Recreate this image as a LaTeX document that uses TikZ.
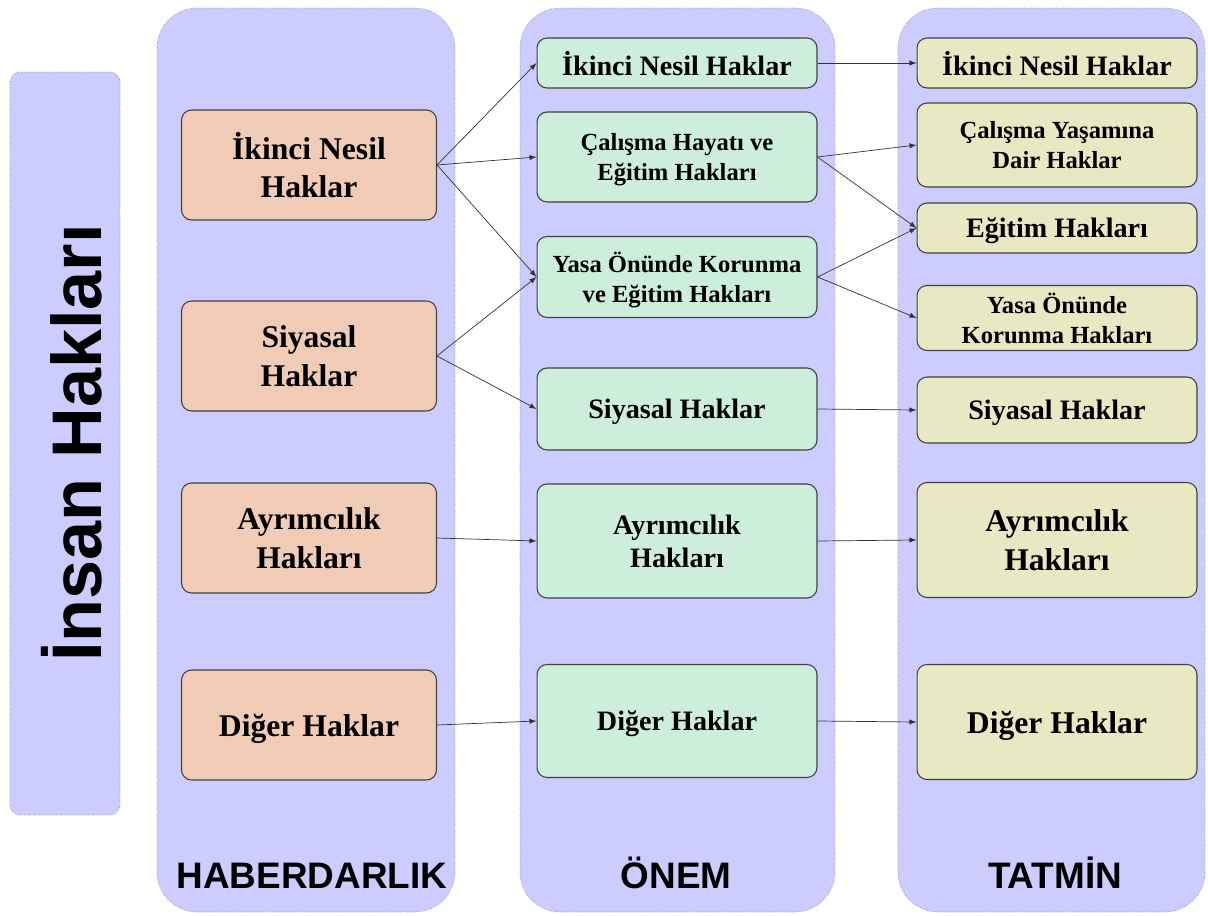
\documentclass[tikz,border=0pt]{standalone}
\usepackage{fontspec}
\setmainfont{Liberation Serif}
\newfontfamily\headfont{Liberation Sans}

\definecolor{lavender}{RGB}{204,204,255}
\definecolor{salmon}{RGB}{240,204,182}
\definecolor{mint}{RGB}{204,238,218}
\definecolor{straw}{RGB}{232,232,194}

\tikzset{
  panel/.style={draw=black!45,densely dotted,fill=lavender,rounded corners=0.8cm},
  rbox/.style={draw=black!75,semithick,rounded corners=0.2cm,align=center,inner sep=2pt,text depth=0pt,font=\bfseries},
  lbox/.style={rbox,fill=salmon,minimum width=5.1cm,minimum height=2.2cm,font=\fontsize{18}{22}\selectfont\bfseries},
  mbox/.style={rbox,fill=mint,minimum width=5.6cm,font=\fontsize{16}{19}\selectfont\bfseries},
  tbox/.style={rbox,fill=straw,minimum width=5.6cm,font=\fontsize{16}{19}\selectfont\bfseries},
  smalltext/.style={font=\fontsize{14}{17}\selectfont\bfseries},
  bigtext/.style={font=\fontsize{18}{22}\selectfont\bfseries},
  caption/.style={anchor=base,font=\headfont\fontsize{21}{24}\selectfont\bfseries},
  link/.style={draw=black!80,arrows=-latex}
}

\begin{document}
\begin{tikzpicture}[x=0.02cm,y=-0.02cm]
\useasboundingbox (0,0) rectangle (1208,916);

% columns:
\draw[panel,rounded corners=0.2cm] (10,72) rectangle (120,815);
\draw[panel] (157,8) rectangle (455,912);
\draw[panel] (520,8) rectangle (835,912);
\draw[panel] (898,8) rectangle (1205,912);

\node[rotate=90,font=\headfont\fontsize{40}{44}\selectfont\bfseries] (title) at (72,443) {İnsan Hakları};
\node[caption] (capHaber) at (312,888) {HABERDARLIK};
\node[caption] (capOnem) at (676,888) {ÖNEM};
\node[caption] (capTatmin) at (1055,888) {TATMİN};

% haberdarlik:
\node[lbox] (hIkinci) at (309,165) {İkinci Nesil\\Haklar};
\node[lbox] (hSiyasal) at (309,356) {Siyasal\\Haklar};
\node[lbox] (hAyrim) at (309,538) {Ayrımcılık\\Hakları};
\node[lbox] (hDiger) at (309,725) {Diğer Haklar};

% onem:
\node[mbox,minimum height=1cm] (oIkinci) at (677,63) {İkinci Nesil Haklar};
\node[mbox,smalltext,minimum height=1.8cm] (oCalisma) at (677,157) {Çalışma Hayatı ve\\Eğitim Hakları};
\node[mbox,smalltext,minimum height=1.62cm] (oYasa) at (677,277) {Yasa Önünde Korunma\\ve Eğitim Hakları};
\node[mbox,minimum height=1.64cm] (oSiyasal) at (677,409) {Siyasal Haklar};
\node[mbox,minimum height=2.28cm] (oAyrim) at (677,541) {Ayrımcılık\\Hakları};
\node[mbox,minimum height=2.26cm] (oDiger) at (677,721) {Diğer Haklar};

% tatmin:
\node[tbox,minimum height=1cm] (tIkinci) at (1057,63) {İkinci Nesil Haklar};
\node[tbox,smalltext,minimum height=1.68cm] (tCalisma) at (1057,145) {Çalışma Yaşamına\\Dair Haklar};
\node[tbox,minimum height=1cm] (tEgitim) at (1057,228) {Eğitim Hakları};
\node[tbox,smalltext,minimum height=1.3cm] (tYasa) at (1057,318) {Yasa Önünde\\Korunma Hakları};
\node[tbox,minimum height=1.32cm] (tSiyasal) at (1057,410) {Siyasal Haklar};
\node[tbox,bigtext,minimum height=2.3cm] (tAyrim) at (1057,540) {Ayrımcılık\\Hakları};
\node[tbox,bigtext,minimum height=2.3cm] (tDiger) at (1057,722) {Diğer Haklar};

% arrows:
\draw[link] (hIkinci.east) -- (oIkinci.west);
\draw[link] (hIkinci.east) -- (oCalisma.west);
\draw[link] (hIkinci.east) -- (oYasa.west);
\draw[link] (hSiyasal.east) -- (oYasa.west);
\draw[link] (hSiyasal.east) -- (oSiyasal.west);
\draw[link] (hAyrim.east) -- (oAyrim.west);
\draw[link] (hDiger.east) -- (oDiger.west);
\draw[link] (oIkinci.east) -- (tIkinci.west);
\draw[link] (oCalisma.east) -- (tCalisma.west);
\draw[link] (oCalisma.east) -- (tEgitim.west);
\draw[link] (oYasa.east) -- (tEgitim.west);
\draw[link] (oYasa.east) -- (tYasa.west);
\draw[link] (oSiyasal.east) -- (tSiyasal.west);
\draw[link] (oAyrim.east) -- (tAyrim.west);
\draw[link] (oDiger.east) -- (tDiger.west);

\end{tikzpicture}
\end{document}
